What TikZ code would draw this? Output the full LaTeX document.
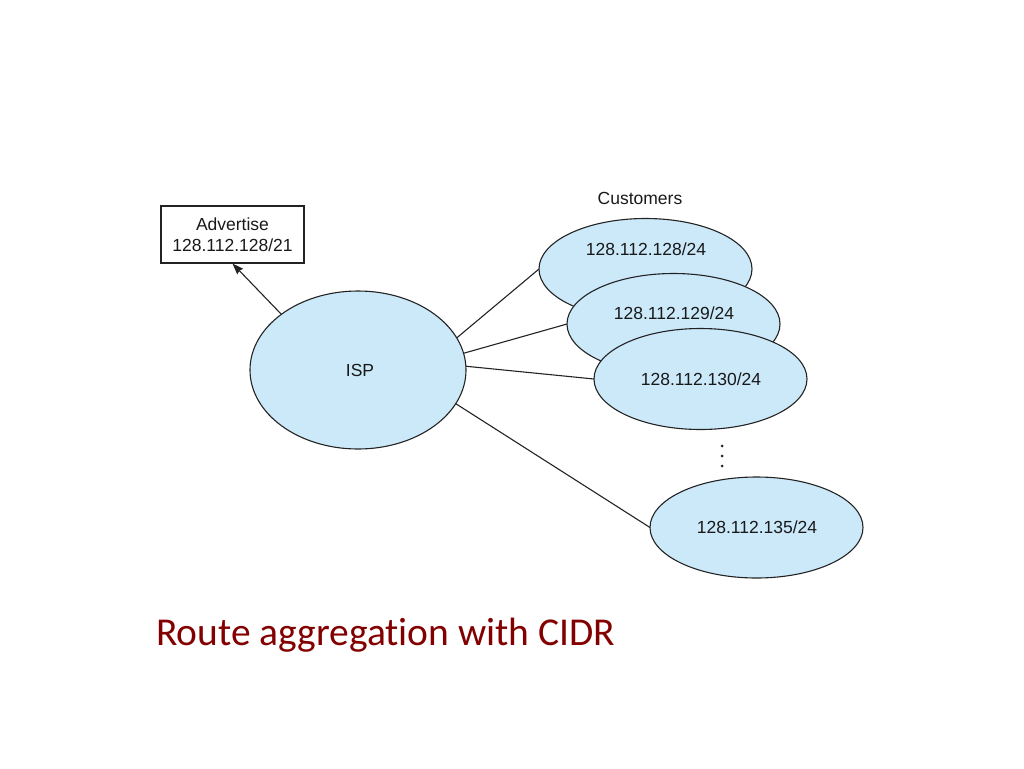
\documentclass[tikz,border=0pt]{standalone}
\usepackage{fontspec}
\setmainfont{Liberation Sans}
\newfontfamily\titlefont[Ligatures=NoCommon]{Carlito}
\usetikzlibrary{shapes.geometric,arrows.meta}
\definecolor{bubble}{RGB}{204,233,250}
\definecolor{edge}{RGB}{35,35,35}
\definecolor{titlered}{RGB}{130,0,0}
\begin{document}
\begin{tikzpicture}[x=1pt,y=-1pt,
  every node/.style={font=\fontsize{17.5}{21}\selectfont, text=black!90},
  blob/.style={ellipse, draw=edge, fill=bubble, line width=1.1pt, inner sep=0pt, outer sep=0pt},
  cust/.style={blob, minimum width=213pt, minimum height=101pt},
  link/.style={draw=edge, line width=1.1pt},
  lbl/.style={inner sep=0pt}
]
\useasboundingbox (0,0) rectangle (1024,768);

% advertise box
\node[draw=edge, line width=1.1pt, minimum width=143pt, minimum height=57pt, align=center, inner sep=0pt]
  (adv) at (232.5,234.5) {Advertise\\128.112.128/21};

% ISP
\node[blob, minimum width=216pt, minimum height=158pt] (isp) at (358,370) {};
\node[lbl] (isplbl) at (360,370) {ISP};

% customers label
\node[lbl] (custlbl) at (640,198) {Customers};

% customer ellipses
\node[cust] (c1) at (645.5,269) {};
\node[lbl] (c1l) at (646,249) {128.112.128/24};
\node[cust] (c2) at (673.5,324) {};
\node[lbl] (c2l) at (674,313) {128.112.129/24};
\node[cust] (c3) at (700.5,379) {};
\node[lbl] (c3l) at (701,379) {128.112.130/24};
\node[cust] (c4) at (756.5,527.5) {};
\node[lbl] (c4l) at (757,527) {128.112.135/24};

% dots
\foreach \yy in {446,456,466}
  \fill[edge] (722,\yy) circle (1.5pt);

% connectors
\draw[link, -{Stealth[length=11pt,width=8pt,inset=1pt]}] (isp.144) -- (adv.south);
\draw[link] (isp.18) -- (c1.west);
\draw[link] (isp.9) -- (c2.west);
\draw[link] (isp.2) -- (c3.west);
\draw[link] (isp.341) -- (c4.west);

% title
\node[anchor=base west, inner sep=0pt, font=\titlefont\fontsize{39.5}{46}\selectfont, text=titlered]
  (title) at (156,645) {Route aggregation with CIDR};
\end{tikzpicture}
\end{document}
